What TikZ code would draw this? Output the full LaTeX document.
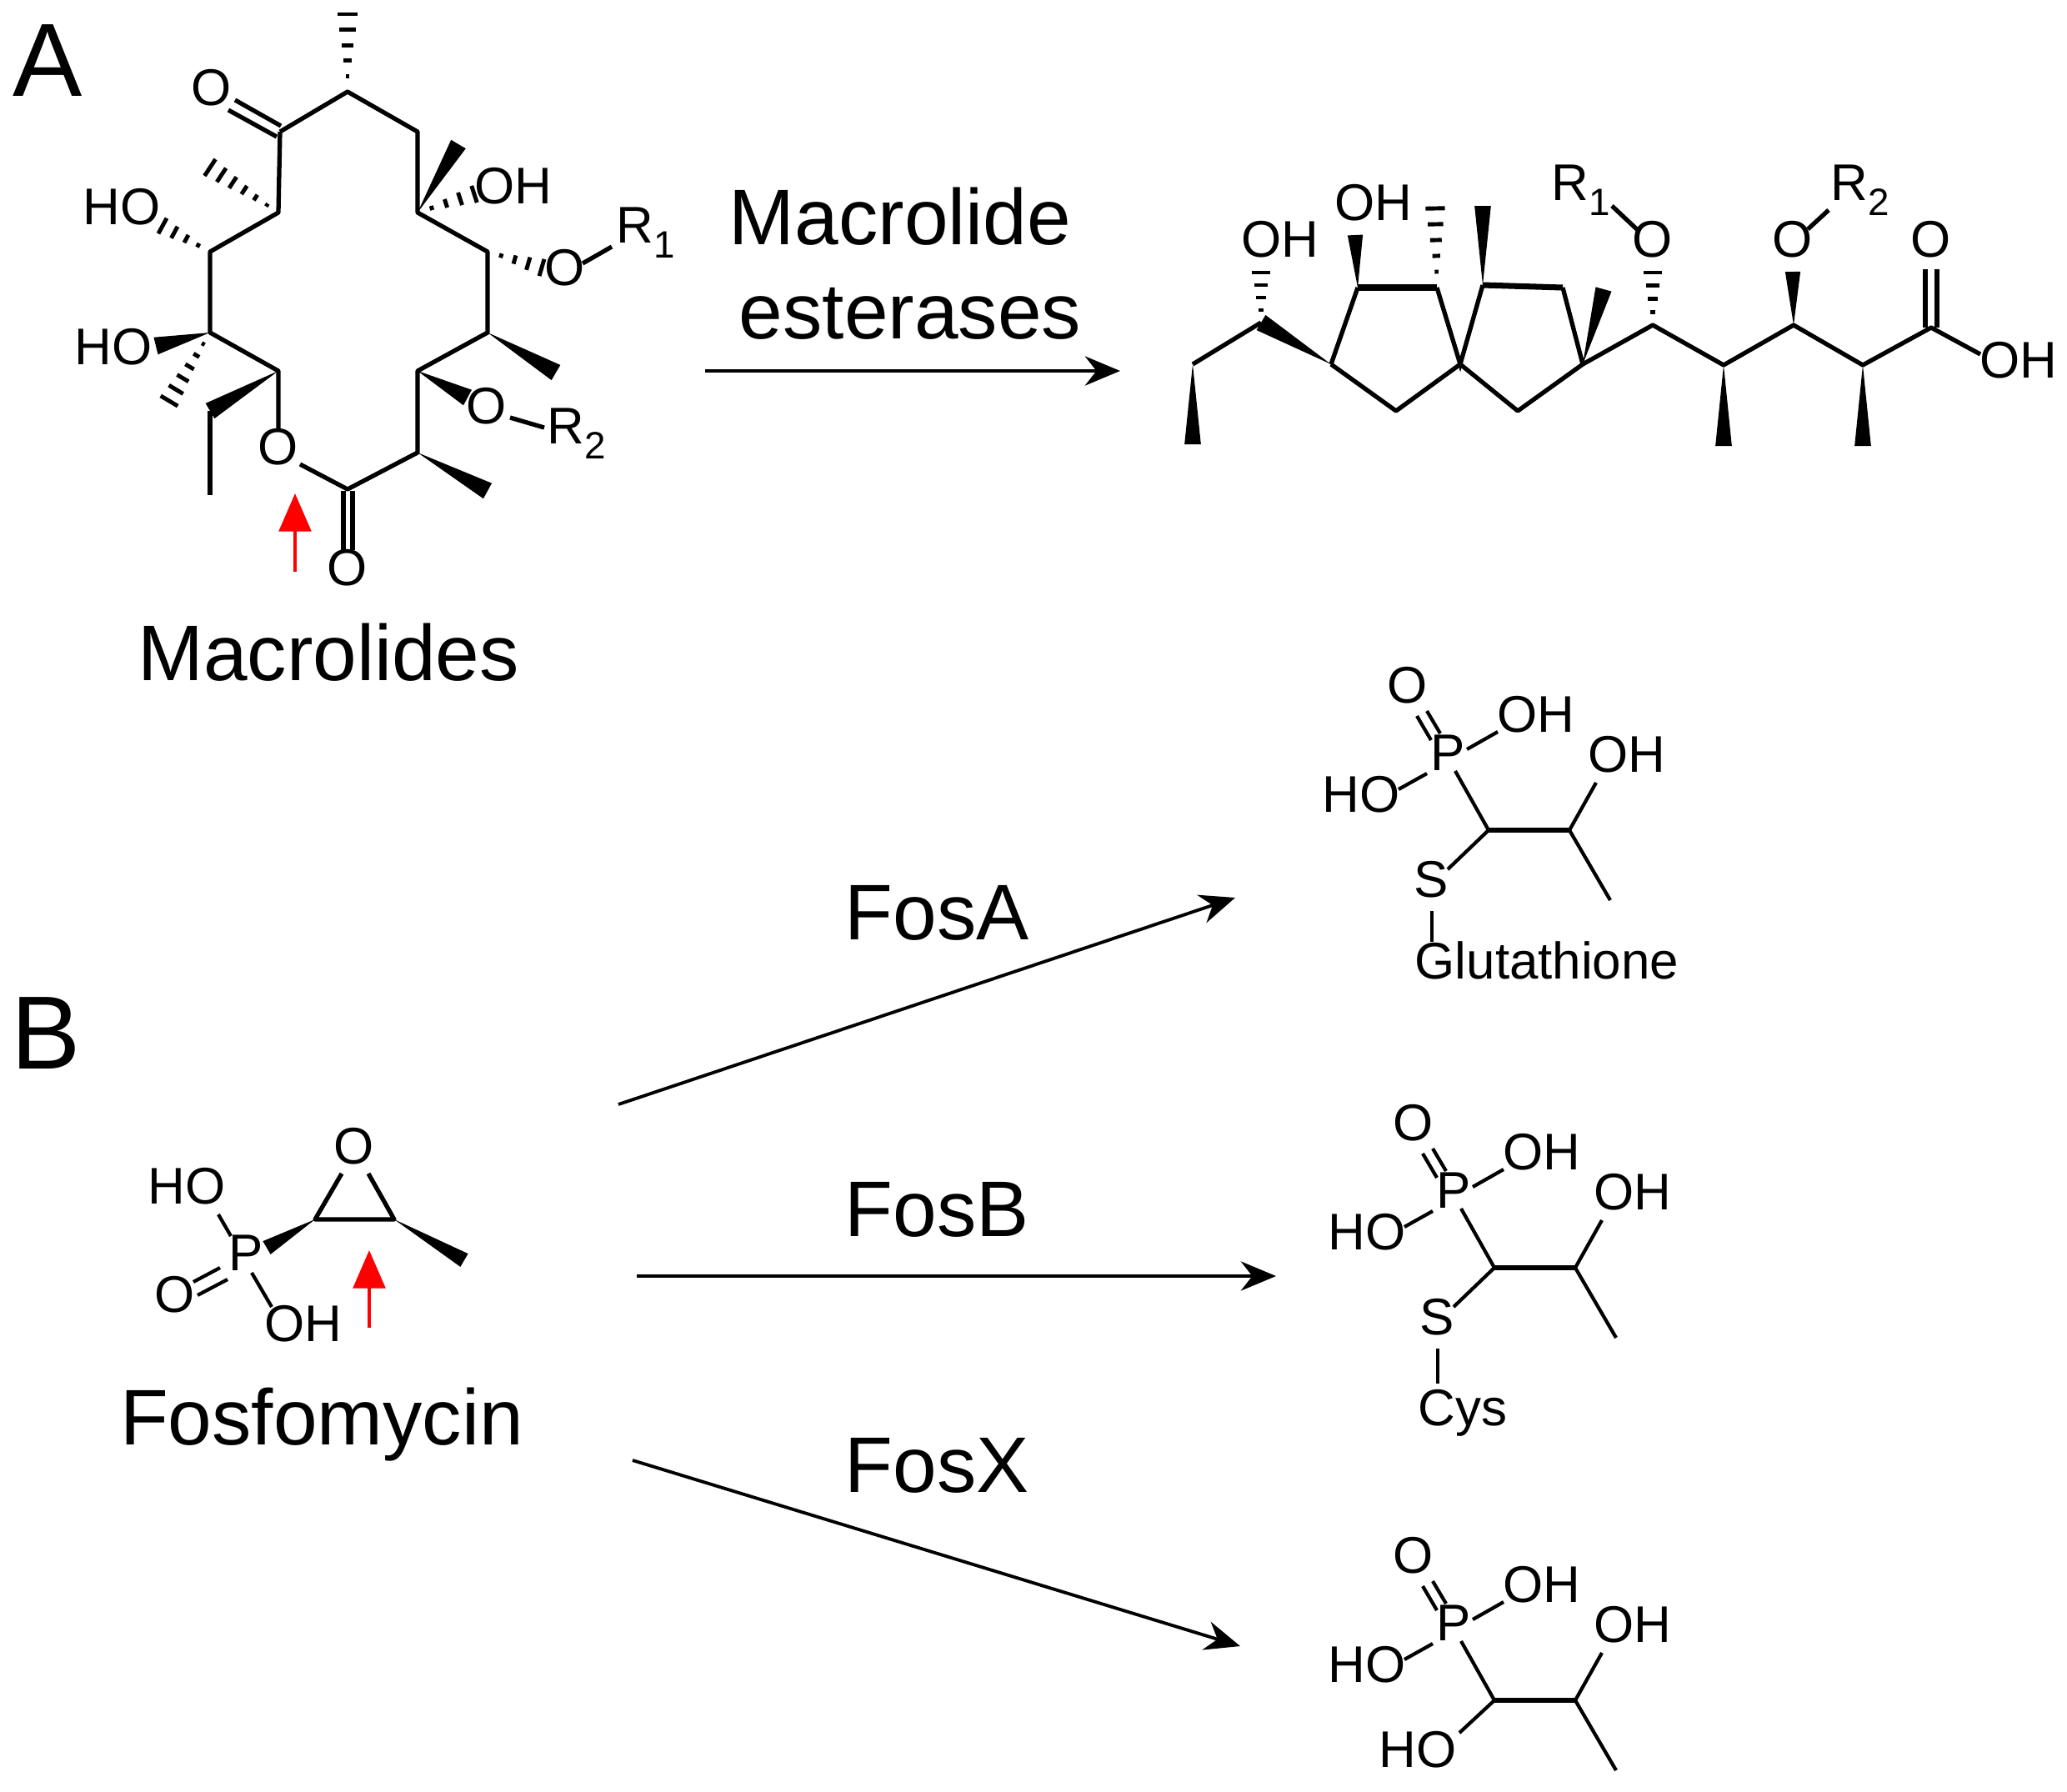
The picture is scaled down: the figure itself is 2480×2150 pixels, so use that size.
\documentclass[tikz,border=0pt]{standalone}
\usepackage{tikz}
\usepackage{fontspec}
\setmainfont{Liberation Sans}
\usetikzlibrary{arrows.meta,calc}
\tikzset{
  bond/.style={line width=1.5pt},
  thinbond/.style={line width=1.2pt},
  heavybond/.style={line width=2pt},
  hashstroke/.style={line width=1.4pt},
  atom/.style={inner sep=0pt,font=\fontsize{17.6}{17.6}\selectfont},
  title/.style={inner sep=0pt,font=\fontsize{26.9}{26.9}\selectfont},
  panel/.style={inner sep=0pt,font=\fontsize{35.5}{35.5}\selectfont},
  reaction/.style={line width=1.1pt,-{Stealth[length=12pt,width=10pt]}},
  cut/.style={red,line width=1.1pt,-{Triangle[length=13pt,width=11pt]}}
}
\newcommand{\wedgebond}[3]{\fill (#1) -- ($(#2)!#3pt!90:(#1)$) -- ($(#2)!#3pt!-90:(#1)$) -- cycle;}
\newcommand{\hashbond}[4]{%
  \foreach \k in {1,...,#3}{
    \pgfmathsetmacro{\hpos}{\k/#3}
    \pgfmathsetmacro{\hw}{#4*\hpos}
    \draw[hashstroke] ($(#1)!\hpos!(#2)!\hw pt!90:(#1)$) -- ($(#1)!\hpos!(#2)!\hw pt!-90:(#1)$);
  }}
\newcommand{\sublabel}[2]{#1\raisebox{-0.3em}{\fontsize{13}{13}\selectfont #2}}
\newcommand{\phoschain}[3]{%
\begin{scope}[shift={(#2,#3)}]
\node[atom] (#1p) at (1737,903) {P};
\node[atom] (#1o) at (1689,822) {O};
\node[atom] (#1oh) at (1843,857) {OH};
\node[atom] (#1ho) at (1633,953) {HO};
\node[atom] (#1ohb) at (1952,905) {OH};
\coordinate (#1da) at (1700,859); \coordinate (#1db) at (1717,888);
\coordinate (#1dc) at (1712,853); \coordinate (#1dd) at (1728,880);
\coordinate (#1ea) at (1760,899); \coordinate (#1eb) at (1797,878);
\coordinate (#1fa) at (1712,928); \coordinate (#1fb) at (1678,947);
\coordinate (#1ga) at (1746,925);
\coordinate (#1ca) at (1786,996); \coordinate (#1cb) at (1883,996);
\coordinate (#1hb) at (1915,939); \coordinate (#1me) at (1932,1080);
\draw[thinbond] (#1da) -- (#1db);
\draw[thinbond] (#1dc) -- (#1dd);
\draw[thinbond] (#1ea) -- (#1eb);
\draw[thinbond] (#1fa) -- (#1fb);
\draw[thinbond] (#1ga) -- (#1ca);
\draw[bond] (#1ca) -- (#1cb);
\draw[thinbond] (#1cb) -- (#1hb);
\draw[thinbond] (#1cb) -- (#1me);
\end{scope}}
\begin{document}
\begin{tikzpicture}[x=0.01cm,y=-0.01cm]
\useasboundingbox (0,0) rectangle (2480,2150);
\node[panel] (panela) at (57,73) {A};
\node[panel] (panelb) at (55,1240) {B};
\node[title] (macrolide) at (1080,260) {Macrolide};
\node[title] (esterases) at (1092,376) {esterases};
\node[title] (macrolides) at (394,783) {Macrolides};
\node[title] (fosfomycin) at (386,1709) {Fosfomycin};
\node[title] (fosa) at (1124,1095) {FosA};
\node[title] (fosb) at (1124,1451) {FosB};
\node[title] (fosx) at (1124,1758) {FosX};
\coordinate (esta) at (846,445); \coordinate (estb) at (1344,445);
\coordinate (faa) at (742,1325); \coordinate (fab) at (1482,1077);
\coordinate (fba) at (764,1531); \coordinate (fbb) at (1531,1531);
\coordinate (fxa) at (759,1752); \coordinate (fxb) at (1488,1975);
\draw[reaction] (esta) -- (estb);
\draw[reaction] (faa) -- (fab);
\draw[reaction] (fba) -- (fbb);
\draw[reaction] (fxa) -- (fxb);
\coordinate (cutaa) at (354,592); \coordinate (cutab) at (354,686);
\coordinate (cutba) at (443,1500); \coordinate (cutbb) at (443,1593);
\draw[cut] (cutab) -- (cutaa);
\draw[cut] (cutbb) -- (cutba);
\coordinate (c1) at (417,110); \coordinate (c2) at (336,158);
\coordinate (c3) at (501,158); \coordinate (c4) at (501,255);
\coordinate (c5) at (585,302); \coordinate (c6) at (585,399);
\coordinate (c7) at (501,445); \coordinate (c8) at (501,543);
\coordinate (c9) at (417,587); \coordinate (c10) at (360,557);
\coordinate (c11) at (334,514); \coordinate (c12) at (334,445);
\coordinate (c13) at (252,399); \coordinate (c14) at (252,302);
\coordinate (c15) at (334,255); \coordinate (c16) at (252,493);
\coordinate (c17) at (252,594);
\draw[bond,line join=round] (c2) -- (c1) -- (c3) -- (c4) -- (c5) -- (c6) -- (c7) -- (c8) -- (c9) -- (c10);
\draw[bond,line join=round] (c11) -- (c12) -- (c13) -- (c14) -- (c15) -- (c2);
\draw[bond] (c16) -- (c17);
\coordinate (oa) at (282,120); \coordinate (ob) at (337,151);
\coordinate (oc) at (274,132); \coordinate (od) at (332,164);
\draw[bond] (oa) -- (ob);
\draw[bond] (oc) -- (od);
\coordinate (oe) at (412,589); \coordinate (of) at (412,660);
\coordinate (og) at (423,589); \coordinate (oh) at (423,660);
\draw[bond] (oe) -- (of);
\draw[bond] (og) -- (oh);
\node[atom] (oketo) at (254,105) {O};
\node[atom] (olact) at (417,681) {O};
\node[atom] (oring) at (334,536) {O};
\node[atom] (ohc) at (616,223) {OH};
\node[atom] (hoa) at (146,248) {HO};
\node[atom] (hob) at (136,416) {HO};
\node[atom] (oone) at (678,321) {O};
\node[atom] (otwo) at (584,487) {O};
\node[atom,anchor=base west] (rone) at (739,291) {\sublabel{R}{1}};
\node[atom,anchor=base west] (rtwo) at (656,532) {\sublabel{R}{2}};
\coordinate (ra) at (699,316); \coordinate (rb) at (734,296);
\coordinate (rc) at (612,501); \coordinate (rd) at (653,513);
\draw[bond] (ra) -- (rb);
\draw[bond] (rc) -- (rd);
\coordinate (ma) at (417,17); \coordinate (mb) at (550,173);
\coordinate (mc) at (569,233); \coordinate (md) at (650,321);
\coordinate (me) at (667,447); \coordinate (mf) at (561,477);
\coordinate (mg) at (585,589); \coordinate (mh) at (187,415);
\coordinate (mi) at (203,481); \coordinate (mj) at (195,271);
\coordinate (mk) at (252,201);
\hashbond{c1}{ma}{5}{3.4}
\wedgebond{c4}{mb}{2.9}
\hashbond{c4}{mc}{4}{3}
\hashbond{c5}{md}{4}{3}
\wedgebond{c6}{me}{3}
\wedgebond{c7}{mf}{3}
\wedgebond{c8}{mg}{3}
\wedgebond{c12}{c16}{3}
\wedgebond{c13}{mh}{3}
\hashbond{c13}{mi}{6}{3.4}
\hashbond{c14}{mj}{4}{3}
\hashbond{c15}{mk}{6}{3.4}
\coordinate (ea) at (1431,437); \coordinate (eb) at (1513,387);
\coordinate (ec) at (1597,437); \coordinate (ed) at (1675,493);
\coordinate (ee) at (1752,437); \coordinate (ef) at (1821,493);
\coordinate (eg) at (1899,437); \coordinate (eh) at (1983,390);
\coordinate (ei) at (2068,438); \coordinate (ej) at (2152,390);
\coordinate (ek) at (2235,438); \coordinate (el) at (2317,393);
\coordinate (em) at (2376,425); \coordinate (en) at (1629,345);
\coordinate (eo) at (1724,345); \coordinate (ep) at (1779,342);
\coordinate (eq) at (1875,345);
\draw[bond,line join=round] (ea) -- (eb);
\draw[bond,line join=round] (ec) -- (ed) -- (ee) -- (ef) -- (eg) -- (eh) -- (ei) -- (ej) -- (ek) -- (el) -- (em);
\draw[bond] (ec) -- (en);
\draw[bond] (eo) -- (ee) -- (ep);
\draw[bond] (eq) -- (eg);
\draw[heavybond] (en) -- (eo);
\draw[heavybond] (ep) -- (eq);
\coordinate (wa) at (1431,533); \coordinate (wb) at (1626,282);
\coordinate (wc) at (1779,247); \coordinate (wd) at (1924,347);
\coordinate (we) at (2068,535); \coordinate (wf) at (2151,326);
\coordinate (wg) at (2235,535); \coordinate (ha) at (1513,327);
\coordinate (hc) at (1722,250); \coordinate (hd) at (1983,327);
\wedgebond{ea}{wa}{2.8}
\wedgebond{ec}{eb}{3}
\wedgebond{en}{wb}{2.6}
\wedgebond{ep}{wc}{2.8}
\wedgebond{eg}{wd}{2.8}
\wedgebond{ei}{we}{2.8}
\wedgebond{ej}{wf}{2.6}
\wedgebond{ek}{wg}{2.8}
\hashbond{eb}{ha}{4}{3.2}
\hashbond{eo}{hc}{5}{3.3}
\hashbond{eh}{hd}{4}{3.2}
\coordinate (da) at (2310,393); \coordinate (db) at (2310,323);
\coordinate (dc) at (2324,393); \coordinate (dd) at (2324,323);
\draw[bond] (da) -- (db);
\draw[bond] (dc) -- (dd);
\node[atom] (oha) at (1536,287) {OH};
\node[atom] (ohb) at (1648,243) {OH};
\node[atom] (ohacid) at (2422,432) {OH};
\node[atom] (oacid) at (2317,287) {O};
\node[atom] (oesta) at (1983,287) {O};
\node[atom] (oestb) at (2151,287) {O};
\node[atom,anchor=base west] (ronep) at (1861,240) {\sublabel{R}{1}};
\node[atom,anchor=base west] (rtwop) at (2196,240) {\sublabel{R}{2}};
\coordinate (rea) at (1966,277); \coordinate (reb) at (1934,247);
\coordinate (rec) at (2169,275); \coordinate (red) at (2194,252);
\draw[bond] (rea) -- (reb);
\draw[bond] (rec) -- (red);
\coordinate (fc) at (378,1463); \coordinate (fd) at (473,1463);
\coordinate (fe) at (410,1408); \coordinate (ff) at (442,1408);
\coordinate (fg) at (320,1497); \coordinate (fh) at (557,1512);
\coordinate (fi) at (262,1457); \coordinate (fj) at (277,1483);
\coordinate (fk) at (232,1538); \coordinate (fl) at (264,1521);
\coordinate (fm) at (237,1554); \coordinate (fn) at (273,1535);
\coordinate (fo) at (302,1527); \coordinate (fp) at (326,1568);
\draw[bond,line join=round] (fe) -- (fc) -- (fd) -- (ff);
\draw[thinbond] (fi) -- (fj);
\draw[thinbond] (fk) -- (fl);
\draw[thinbond] (fm) -- (fn);
\draw[thinbond] (fo) -- (fp);
\wedgebond{fc}{fg}{2.6}
\wedgebond{fd}{fh}{2.6}
\node[atom] (oepox) at (425,1375) {O};
\node[atom] (pfos) at (295,1503) {P};
\node[atom] (hofos) at (224,1423) {HO};
\node[atom] (ofos) at (210,1553) {O};
\node[atom] (ohfos) at (364,1588) {OH};
\phoschain{a}{0}{0}
\node[atom] (sa) at (1717,1055) {S};
\node[atom,anchor=west] (glut) at (1697,1152) {Glutathione};
\coordinate (saa) at (1737,1043); \coordinate (sab) at (1718,1093); \coordinate (sac) at (1718,1130);
\draw[thinbond] (aca) -- (saa);
\draw[thinbond] (sab) -- (sac);
\phoschain{b}{7}{525}
\node[atom] (sb) at (1724,1580) {S};
\node[atom] (cys) at (1755,1695) {Cys};
\coordinate (sba) at (1744,1568); \coordinate (sbb) at (1725,1618); \coordinate (sbc) at (1725,1660);
\draw[thinbond] (bca) -- (sba);
\draw[thinbond] (sbb) -- (sbc);
\phoschain{x}{7}{1044}
\node[atom] (hox) at (1701,2099) {HO};
\coordinate (xa) at (1751,2079);
\draw[thinbond] (xca) -- (xa);
\end{tikzpicture}
\end{document}
